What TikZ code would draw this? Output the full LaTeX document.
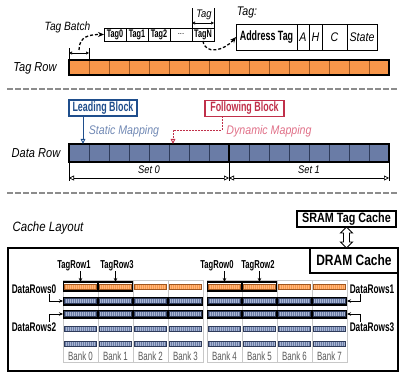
\documentclass[tikz,border=0pt]{standalone}
\usepackage{fontspec}
\setmainfont{Liberation Sans}[FakeStretch=0.85]
\newfontfamily\cnd{Liberation Sans}[FakeStretch=0.66]
\newfontfamily\semicnd{Liberation Sans}[FakeStretch=0.8]
\usetikzlibrary{arrows.meta,calc,patterns.meta}
\definecolor{tagorange}{HTML}{F7964A}
\definecolor{tagdark}{HTML}{A0561E}
\definecolor{taglight}{HTML}{FFB77A}
\definecolor{datablue}{HTML}{6A7CA6}
\definecolor{datadark}{HTML}{2E3B5A}
\definecolor{datalight}{HTML}{A9B6D2}
\definecolor{leadblue}{HTML}{1F4E8C}
\definecolor{mapblue}{HTML}{7088B4}
\definecolor{folred}{HTML}{C0304A}
\definecolor{mapred}{HTML}{E07088}
\definecolor{sepgray}{HTML}{8C8C8C}
\definecolor{bankgray}{HTML}{C8C8C8}
\definecolor{banktext}{HTML}{5A5A5A}
\tikzset{>=Stealth,every node/.style={inner sep=0pt,outer sep=0pt},
  itl/.style={font=\fontsize{#1}{#1}\selectfont\itshape},
  bfl/.style={font=\fontsize{#1}{#1}\selectfont\cnd\bfseries},
  sbf/.style={font=\fontsize{#1}{#1}\selectfont\semicnd\bfseries},
  sep/.style={sepgray,line width=2.6pt,dash pattern=on 5.5pt off 2.5pt},
  tagcell/.style={draw=tagdark,fill=tagorange,line width=0.6pt,minimum width=20,minimum height=15,anchor=north west},
  datacell/.style={draw=datadark,fill=datablue,line width=0.6pt,minimum width=20,minimum height=18,anchor=north west},
  batch/.style={draw,fill=white,line width=0.6pt,minimum width=22,minimum height=13,bfl=11},
  field/.style={draw,line width=0.7pt,minimum height=26,anchor=west,itl=12.5},
  blk/.style={draw=#1,text=#1,line width=1.1pt,minimum height=16,bfl=13.5},
  dim/.style={line width=0.7pt,{Triangle[open,length=5pt,width=5pt]}-{Triangle[open,length=5pt,width=5pt]}},
  dimsmall/.style={line width=0.6pt,{Triangle[open,length=3pt,width=3pt]}-{Triangle[open,length=3pt,width=3pt]}},
  dcurve/.style={line width=1.3pt,dash pattern=on 3pt off 2pt,-{Stealth[length=6pt,width=5pt]}},
  bankbox/.style={draw=bankgray,line width=0.8pt,minimum width=35,minimum height=82,anchor=north west},
  banklbl/.style={font=\fontsize{12}{12}\selectfont\cnd,text=banktext},
  band/.style={fill=black,minimum width=140,minimum height=9,anchor=west},
  tagbar/.style={draw=tagdark,line width=0.4pt,preaction={fill=tagorange},pattern={Lines[angle=90,distance=2pt,line width=0.6pt]},pattern color=taglight,minimum width=32,minimum height=5},
  databar/.style={draw=datadark,line width=0.4pt,preaction={fill=datablue},pattern={Lines[angle=90,distance=2pt,line width=0.6pt]},pattern color=datalight,minimum width=32,minimum height=5},
  hl/.style={draw,line width=1.5pt,minimum width=34,minimum height=9},
  hook/.style={line width=0.8pt,-{Stealth[length=4pt,width=3.5pt]}}}

\begin{document}
\begin{tikzpicture}[x=1pt,y=-1pt]
\useasboundingbox (0,0) rectangle (407,374);
\foreach \i in {0,...,15} \node[tagcell] (t\i) at ({69+20*\i},60) {};
\draw[line width=1.6pt] (t0.north west) rectangle (t15.south east);
\node[itl=13] (tagrowlbl) at (35,68) {Tag Row};
\node[batch,anchor=north west] (b0) at (104,28) {Tag0};
\node[batch,anchor=west] (b1) at (b0.east) {Tag1};
\node[batch,anchor=west] (b2) at (b1.east) {Tag2};
\node[batch,anchor=west,font=\fontsize{9}{9}\selectfont] (b3) at (b2.east) {...};
\node[batch,anchor=west] (b4) at (b3.east) {TagN};
\node[itl=12] (batchlbl) at (67.5,27) {Tag Batch};
\draw[line width=0.6pt] (t0.north west) -- ++(0,-12) (t0.north east) -- ++(0,-12);
\draw[dimsmall] ($(t0.north west)+(0,-7)$) -- ($(t0.north east)+(0,-7)$);
\draw[dcurve] ($(t0.north)+(0,-10)$) .. controls ($(t0.north)+(0,-24)$) and ($(b0.west)+(-14,0)$) .. (b0.west);
\draw[line width=0.6pt] (b4.north west) -- ++(0,-20) (b4.north east) -- ++(0,-20);
\draw[dimsmall] ($(b4.north west)+(0,-5)$) -- ($(b4.north east)+(0,-5)$);
\node[itl=11] (tagwlbl) at (204,15) {Tag};
\node[field,minimum width=61,anchor=north west,bfl=13.5] (f0) at (236,24) {Address Tag};
\node[field,minimum width=12] (f1) at (f0.east) {A};
\node[field,minimum width=13] (f2) at (f1.east) {H};
\node[field,minimum width=25] (f3) at (f2.east) {C};
\node[field,minimum width=30] (f4) at (f3.east) {State};
\node[itl=12.5] (taglbl) at (247,13) {Tag:};
\draw[dcurve] (b4.south) .. controls ($(b4.south)+(2,14)$) and ($(f0.west)+(-12,14)$) .. (f0.west);
\draw[sep] (7,89) -- (397,89);
\foreach \i in {0,...,15} \node[datacell] (d\i) at ({69+20*\i},144) {};
\draw[line width=1.6pt] (d0.north west) rectangle (d15.south east) (d7.north east) -- (d7.south east);
\node[itl=13] (datarowlbl) at (36,153) {Data Row};
\node[blk=leadblue,minimum width=68] (lead) at (103,108) {Leading Block};
\node[blk=folred,minimum width=79] (fol) at (244.5,108.5) {Following Block};
\draw[leadblue,line width=0.9pt,-{Triangle[open,length=5pt,width=4.5pt]}] ($(lead.south west)+(14,0)$) -- ($(d0.north west)+(14,0)$);
\node[itl=12.5,text=mapblue] (smap) at (124,131) {Static Mapping};
\draw[folred,line width=0.9pt,dash pattern=on 2pt off 1pt,-{Triangle[open,length=5pt,width=4.5pt]}] ($(fol.south west)+(17,0)$) -- ++(0,14) -| ($(d5.north west)+(4,0)$);
\node[itl=12.5,text=mapred] (dmap) at (269,131) {Dynamic Mapping};
\draw[line width=0.6pt] (d0.south west) -- ++(0,19) (d7.south east) -- ++(0,19) (d15.south east) -- ++(0,19);
\draw[dim] ($(d0.south west)+(0,16)$) -- ($(d7.south east)+(0,16)$);
\draw[dim] ($(d7.south east)+(0,16)$) -- ($(d15.south east)+(0,16)$);
\node[itl=11] (set0) at (149,170) {Set 0};
\node[itl=11] (set1) at (309,170) {Set 1};
\draw[sep] (7,193) -- (397,193);
\node[itl=13.5] (layoutlbl) at (48,228) {Cache Layout};
\node[draw,line width=1.6pt,minimum width=390,minimum height=123,anchor=north west] (frame) at (8,248) {};
\node[draw,line width=1.6pt,minimum width=88,minimum height=25,anchor=north east,sbf=15] (dram) at (frame.north east) {DRAM Cache};
\node[draw,line width=1.6pt,minimum width=99,minimum height=16,anchor=north west,sbf=13.5] (sram) at (297,211) {SRAM Tag Cache};
\draw[line width=0.9pt,fill=white] let \p1=(sram.south),\p2=(dram.north) in
  (\x1,\y1) -- ++(6pt,-6pt) -- ++(-3pt,0) -- ({\x1+3pt},{\y2+6pt}) -- ++(3pt,0) -- (\x1,\y2)
  -- ++(-6pt,6pt) -- ++(3pt,0) -- ({\x1-3pt},{\y1-6pt}) -- ++(-3pt,0) -- cycle;
\foreach \x [count=\b from 0] in {63,98,133,168,207,242,277,312}{
  \node[bankbox] (bank\b) at (\x,280) {};
  \node[banklbl] (bl\b) at (\x+17.5,356) {Bank \b};}
\node[band] (band0) at (63,301) {}; \node[band] (band1) at (207,301) {};
\node[band] (band2) at (63,314) {}; \node[band] (band3) at (207,314) {};
\foreach \x [count=\b from 0] in {63,98,133,168,207,242,277,312}{
  \node[tagbar] (bar\b-0) at (\x+17.5,286.5) {};
  \foreach \y [count=\r from 1] in {301,314,329,343.5} \node[databar] (bar\b-\r) at (\x+17.5,\y) {};}
\node[hl] (tr1) at (80.5,286.5) {}; \node[hl] (tr3) at (115.5,286.5) {};
\node[hl] (tr0) at (224.5,286.5) {}; \node[hl] (tr2) at (259.5,286.5) {};
\node[bfl=11.5] (lr1) at (74,266) {TagRow1}; \node[bfl=11.5] (lr3) at (117,266) {TagRow3};
\node[bfl=11.5] (lr0) at (217,266) {TagRow0}; \node[bfl=11.5] (lr2) at (258,266) {TagRow2};
\foreach \n in {0,1,2,3} \draw[hook] (lr\n.south -| tr\n.north) -- (tr\n.north);
\node[bfl=12.5] (dr0) at (34,289) {DataRows0}; \node[bfl=12.5] (dr2) at (34,327) {DataRows2};
\node[bfl=12.5] (dr1) at (372,289) {DataRows1}; \node[bfl=12.5] (dr3) at (372,327) {DataRows3};
\draw[hook] ($(dr0.south east)+(-7,1)$) |- (band0.west);
\draw[hook] ($(dr2.north east)+(-7,-1)$) |- (band2.west);
\draw[hook] ($(dr1.south west)+(11,1)$) |- (band1.east);
\draw[hook] ($(dr3.north west)+(11,-1)$) |- (band3.east);
\end{tikzpicture}
\end{document}
